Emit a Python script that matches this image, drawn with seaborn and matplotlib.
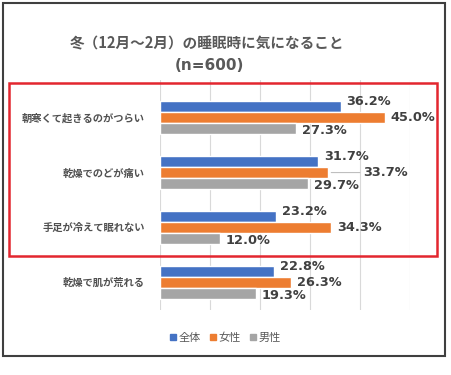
import matplotlib
matplotlib.use("Agg")
import numpy as np
import pandas as pd
import matplotlib.pyplot as plt
import seaborn as sns
from matplotlib.patches import Rectangle

# ─── Data ─────────────────────────────────────────────────────────────────────
TITLE_1 = "冬（12月～2月）の睡眠時に気になること"
TITLE_2 = "(n=600)"
categories = ["朝寒くて起きるのがつらい", "乾燥でのどが痛い", "手足が冷えて眠れない", "乾燥で肌が荒れる"]
groups = ["全体", "女性", "男性"]
total = [36.2, 31.7, 23.2, 22.8]
female = [45.0, 33.7, 34.3, 26.3]
male = [27.3, 29.7, 12.0, 19.3]
x_ticks = [0, 10, 20, 30, 40, 50]

PALETTE = ["#4472C4", "#ED7D31", "#A5A5A5"]
TEXT_GRAY = "#595959"

# ─── Styling ──────────────────────────────────────────────────────────────────
sns.set_style("white")
plt.rcParams["font.family"] = ["Noto Sans CJK JP", "DejaVu Sans"]

df = pd.DataFrame({
    "item": categories * 3,
    "group": [g for g in groups for _ in categories],
    "value": total + female + male,
})

W, H = 452, 375
fig = plt.figure(figsize=(W / 100, H / 100), dpi=100)
ax = fig.add_axes([160 / W, 1 - 310 / H, 250 / W, 230 / H])

sns.barplot(data=df, x="value", y="item", hue="group", order=categories,
            hue_order=groups, palette=PALETTE, width=0.6, orient="h",
            saturation=1, legend=False, ax=ax)

ax.set_xlim(0, 50)
ax.set_ylim(3.51, -0.69)
ax.set_xticks(x_ticks)
ax.set_xticklabels([])
ax.tick_params(axis="both", length=0)
ax.grid(axis="x", color="#D9D9D9", linewidth=0.8)
ax.set_axisbelow(True)
for s in ax.spines.values():
    s.set_visible(False)
ax.set_xlabel("")
ax.set_ylabel("")
ax.tick_params(axis="y", pad=11)
for lab in ax.get_yticklabels():
    lab.set_color("#505050")
    lab.set_fontsize(7.4)
    lab.set_fontweight("bold")

# data labels: Excel-like staggered positions
LABEL_KW = dict(fontsize=9.3, fontweight="bold", color="#404040",
                family="DejaVu Sans", va="center", ha="left",
                textcoords="offset points")
dy = [3.5, 0, -1.5]
for h, cont in enumerate(ax.containers):
    for i, bar in enumerate(cont):
        val = bar.get_width()
        yc = bar.get_y() + bar.get_height() / 2
        if h == 1 and i == 1:
            # label pushed out with a leader line
            ax.annotate(f"{val:.1f}%", xy=(val, yc), xytext=(25, 0),
                        arrowprops=dict(arrowstyle="-", color="#BFBFBF", lw=0.8,
                                        shrinkA=0, shrinkB=2), **LABEL_KW)
        else:
            ax.annotate(f"{val:.1f}%", xy=(val, yc), xytext=(4, dy[h]), **LABEL_KW)

# titles
fig.text(207 / W, 1 - 43 / H, TITLE_1, ha="center", va="center",
         fontsize=10.5, fontweight="bold", color=TEXT_GRAY)
fig.text(209 / W, 1 - 65 / H, TITLE_2, ha="center", va="center",
         fontsize=11, fontweight="bold", color=TEXT_GRAY, family="DejaVu Sans")

# legend
handles = [plt.Line2D([0], [0], marker="s", linestyle="", markersize=4.5,
                      color=c) for c in PALETTE]
fig.legend(handles, groups, loc="center", bbox_to_anchor=(225 / W, 1 - 338 / H),
           ncol=3, frameon=False, fontsize=8, handlelength=0.6,
           handletextpad=0.2, columnspacing=0.8, labelcolor=TEXT_GRAY)

# outer frame and red highlight box
fig.patches.append(Rectangle((3 / W, 1 - 356 / H), 442 / W, 353 / H,
                             transform=fig.transFigure, fill=False,
                             edgecolor="#3F3F3F", linewidth=1.5))
fig.patches.append(Rectangle((9 / W, 1 - 256 / H), 428 / W, 173 / H,
                             transform=fig.transFigure, fill=False,
                             edgecolor="#E3262F", linewidth=1.8, zorder=5))

fig.savefig("out.png", dpi=100)
